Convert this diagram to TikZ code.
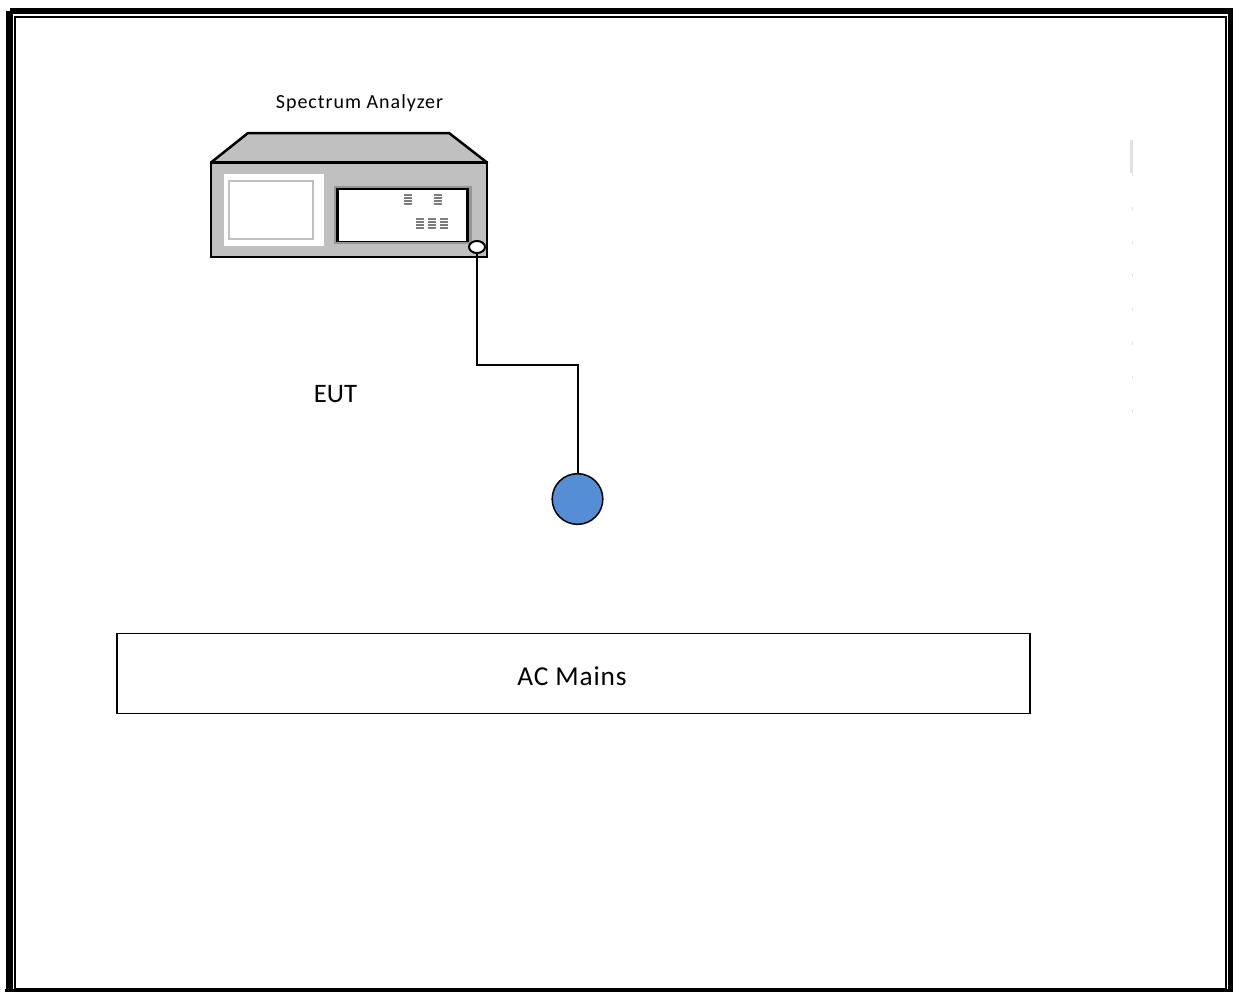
\documentclass[tikz,border=0pt]{standalone}
\usepackage{fontspec}
\usetikzlibrary{shapes.geometric}
\setmainfont{Carlito}
\newfontfamily\widesa[LetterSpace=5]{Carlito}
\newfontfamily\widemain[LetterSpace=3]{Carlito}
\definecolor{cabinet}{RGB}{192,192,192}
\definecolor{port}{RGB}{85,142,213}
\definecolor{panelgrey}{RGB}{150,150,150}
\definecolor{keygrey}{RGB}{125,125,125}
\definecolor{ghost}{RGB}{225,225,225}
\tikzset{
  px/.style={line width=#1*0.75pt},
  ink/.style={draw=black,px=2.5},
  lbl/.style={inner sep=0pt,text=black},
}
\newcommand{\keystack}[2]{%
  \foreach \k in {0,1,2,3}{\fill[keygrey] (#1,#2+\k*3) rectangle ++(8,2.1);}}
\begin{document}
\begin{tikzpicture}[x=0.75pt,y=-0.75pt]
\useasboundingbox (0,0) rectangle (1233,992);
\fill[white] (0,0) rectangle (1233,992);
% page border
\draw[black,px=6.5,line join=miter] (9.5,11) -- (1231,11) -- (1231,995) (9.5,11) -- (9.5,995) (5,992) -- (1233,992);
\draw[black,px=2] (15,16.5) rectangle (1225.5,989);
% analyzer
\path[fill=cabinet,ink,line join=round] (211,162.5) -- (248,133) -- (449,133) -- (487,162.5) -- cycle;
\path[fill=cabinet,ink,line join=miter] (211,162.5) rectangle (487,257);
\fill[white] (224,174) rectangle (324,246);
\draw[cabinet,px=2] (229,181) rectangle (313,239);
\fill[panelgrey] (334,186) rectangle (472,244);
\fill[white] (337,189) rectangle (468,241);
\fill[black] (337,188) rectangle (468,189.5);
\fill[black] (336,188) rectangle (339,242);
\fill[black] (337,240.5) rectangle (469,242);
\fill[black] (465.5,188) rectangle (469,242);
\keystack{404}{194}
\keystack{433.5}{194}
\keystack{416}{217.5}
\keystack{427.5}{217.5}
\keystack{440}{217.5}
\node[ellipse,draw=black,px=2,fill=white,minimum width=12pt,minimum height=9pt,inner sep=0pt] (conn) at (477,247) {};
% labels
\node[lbl,font=\fontsize{15pt}{18pt}\selectfont\widesa] (sa) at (359.5,103) {Spectrum Analyzer};
\node[lbl,font=\fontsize{20pt}{24pt}\selectfont] (eut) at (335.5,394) {EUT};
% probe and lead
\node[circle,draw=black,px=1.5,fill=port,minimum size=38pt,inner sep=0pt] (probe) at (577.5,499) {};
\coordinate (bendA) at (477,364.5);
\coordinate (bendB) at (577.5,364.5);
\draw[black,px=2,line join=miter] (conn.south) -- (bendA) -- (bendB) -- (probe.north);
% mains
\node[draw=black,px=1.5,fill=white,minimum width=684.75pt,minimum height=60pt,inner sep=0pt] (mains) at (573.5,673.5) {};
\node[lbl,font=\fontsize{20.5pt}{24pt}\selectfont\widemain] (mainstext) at (572,676) {AC Mains};
% faint marks
\fill[ghost] (1130,140) rectangle (1133,173);
\foreach \yy in {174,208,242,275,309,343,377,411}{\fill[ghost] (1131.5,\yy-1) rectangle (1132.8,\yy+1.5);}
\end{tikzpicture}
\end{document}
